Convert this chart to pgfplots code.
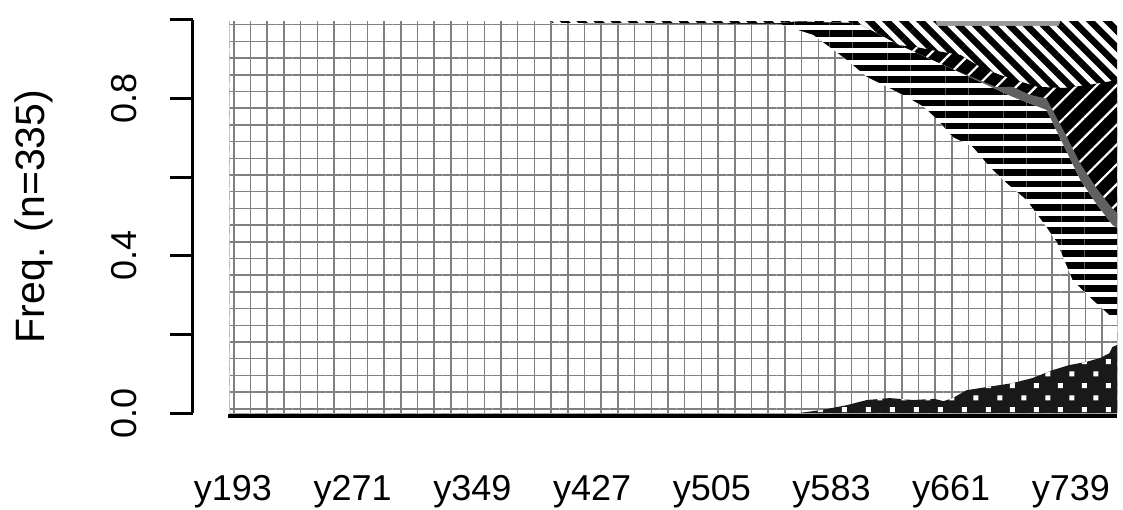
\documentclass[border=0pt]{standalone}
\usepackage{pgfplots}
\pgfplotsset{compat=1.18}
\usepackage{fontspec}
\setmainfont{Liberation Sans}
\usetikzlibrary{patterns,patterns.meta}

\pgfdeclarepatternformonly{wsq}{\pgfqpoint{0pt}{0pt}}{\pgfqpoint{12pt}{12pt}}{\pgfqpoint{12pt}{12pt}}{%
 \pgfpathrectangle{\pgfqpoint{1pt}{1pt}}{\pgfqpoint{2.6pt}{2.6pt}}%
 \pgfpathrectangle{\pgfqpoint{7pt}{7pt}}{\pgfqpoint{2.6pt}{2.6pt}}%
 \pgfusepath{fill}}

\begin{document}
\begin{tikzpicture}
\begin{axis}[
 at={(0,0)}, anchor=south west,
 scale only axis, width=462pt, height=196.5pt,
 xmin=167, xmax=769, ymin=0, ymax=1,
 clip=false,
 axis x line*=bottom, axis y line*=left,
 x axis line style={draw=none},
 y axis line style={line width=1.5pt, black},
 xtick={193,271,349,427,505,583,661,739},
 xticklabels={y193,y271,y349,y427,y505,y583,y661,y739},
 xtick style={draw=none},
 ytick={0,0.2,0.4,0.6,0.8,1},
 yticklabels={0.0,{},0.4,{},0.8,{}},
 ytick style={line width=1.5pt, black},
 tick align=outside, major tick length=11.5pt,
 /pgf/number format/assume math mode=true,
 xticklabel style={font=\fontsize{18}{21}\selectfont, anchor=base, inner sep=0pt, yshift=-32pt},
 yticklabel style={font=\fontsize{18}{21}\selectfont, xshift=-16.5pt, rotate=90, anchor=south, inner sep=0pt},
 ylabel={Freq. (n=335)},
 ylabel style={font=\fontsize{20.5}{24}\selectfont, at={(axis description cs:-0.161,0.5)}, anchor=base, inner sep=0pt},
]
% L7: light gray top band
\addplot[draw=none, fill=black!40] coordinates {(191,0.997) (769,0.997)} \closedcycle;
% L6: "\" stripes
\addplot[draw=none, fill=white, postaction={pattern={Lines[angle=-45,distance=6pt,line width=3.3pt]}, pattern color=black}]
 coordinates {(191,0.997) (651,0.997) (652,0.985) (731,0.985) (732,0.997) (769,0.997)} \closedcycle;
% L5: "/" region (black with white lines)
\addplot[draw=none, fill=black, postaction={pattern={Lines[angle=45,distance=7pt,line width=1.1pt]}, pattern color=white}]
 coordinates {(191,0.997) (400,0.997) (401,0.992) (549,0.992) (560,0.996) (600,0.992) (627,0.936) (640,0.93) (647,0.924) (667,0.911) (680,0.88) (693,0.86) (705,0.845) (717,0.83) (734,0.827) (751,0.835) (769,0.847)} \closedcycle;
% L4: gray band
\addplot[draw=none, fill=black!62]
 coordinates {(191,0.997) (400,0.997) (401,0.992) (549,0.992) (560,0.996) (600,0.992) (627,0.936) (660,0.878) (690,0.83) (701,0.83) (712,0.81) (723,0.80) (734,0.72) (745,0.635) (756,0.57) (766,0.52) (769,0.51)} \closedcycle;
% L3: horizontal stripes
\addplot[draw=none, fill=white, postaction={pattern={Lines[angle=0,distance=5.8pt,line width=3.3pt]}, pattern color=black}]
 coordinates {(191,0.997) (400,0.997) (401,0.992) (549,0.992) (560,0.996) (600,0.992) (627,0.936) (660,0.878) (701,0.804) (723,0.771) (734,0.682) (745,0.593) (756,0.529) (766,0.478) (769,0.471)} \closedcycle;
% L2: grid
\addplot[draw=none, fill=white, postaction={pattern={Hatch[angle=0,distance=8.35pt,line width=0.75pt]}, pattern color=black!50}]
 coordinates {(191,0.997) (400,0.997) (401,0.992) (549,0.99) (571,0.962) (593,0.898) (606,0.855) (619,0.830) (632,0.804) (643,0.779) (652,0.746) (662,0.702) (675,0.677) (686,0.626) (697,0.585) (710,0.542) (723,0.473) (730,0.433) (740,0.338) (753,0.288) (766,0.242) (769,0.24)} \closedcycle;
% L1: dots
\addplot[draw=none, fill=black!90, postaction={pattern=wsq, pattern color=white}]
 coordinates {(191,0) (562,0) (577,0.008) (593,0.02) (606,0.033) (621,0.038) (636,0.033) (650,0.036) (656,0.03) (662,0.038) (671,0.058) (684,0.066) (701,0.076) (714,0.089) (727,0.109) (738,0.122) (749,0.13) (758,0.14) (764,0.152) (766,0.168) (769,0.173)} \closedcycle;
% bottom black line
\addplot[black, line width=2pt] coordinates {(190,-0.008) (769,-0.008)};
\end{axis}
\pgfresetboundingbox
\path[use as bounding box] (-96.5pt,-48pt) rectangle (465pt,206.5pt);
\end{tikzpicture}
\end{document}
